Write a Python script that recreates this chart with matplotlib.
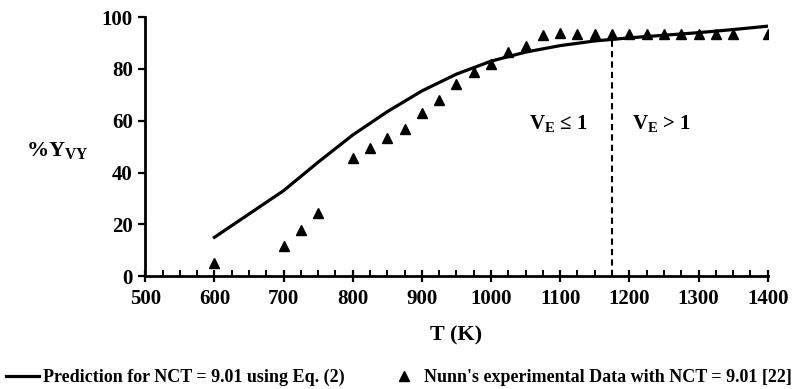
import matplotlib
matplotlib.use("Agg")
import matplotlib.pyplot as plt
import numpy as np
from matplotlib.ticker import MultipleLocator

plt.rcParams['font.family'] = ['Liberation Serif', 'DejaVu Serif']
plt.rcParams['font.weight'] = 'bold'
plt.rcParams['mathtext.fontset'] = 'custom'
plt.rcParams['mathtext.rm'] = 'Liberation Serif:bold'
plt.rcParams['mathtext.it'] = 'Liberation Serif:bold'
plt.rcParams['mathtext.bf'] = 'Liberation Serif:bold'

# prediction curve (Eq. 2)
t_pred = [600, 650, 700, 750, 800, 850, 900, 950, 1000, 1050, 1100, 1150, 1200, 1250, 1300, 1350, 1400]
y_pred = [15, 24, 33, 44, 54.5, 63.5, 71.5, 78, 83, 86.5, 89, 90.8, 92, 93, 94, 95.2, 96.5]

# Nunn's experimental data
t_exp = [600, 700, 725, 750, 800, 825, 850, 875, 900, 925, 950, 975, 1000, 1025, 1050,
         1075, 1100, 1125, 1150, 1175, 1200, 1225, 1250, 1275, 1300, 1325, 1350, 1400]
y_exp = [5, 11.5, 18, 24.5, 45.5, 49.5, 53.5, 57, 63, 68, 74, 79, 82, 86.5, 89,
         93, 93.8, 93.3, 93.3, 93.3, 93.3, 93.3, 93.3, 93.3, 93.3, 93.3, 93.3, 93.3]

t_switch = 1175
y_switch = 91.5

fig = plt.figure(figsize=(7.98, 3.89), dpi=100)
ax = fig.add_axes([0.182, 0.29, 0.78, 0.666])

ax.plot(t_pred, y_pred, color='black', lw=2.3,
        label='Prediction for NCT = 9.01 using Eq. (2)')
ax.plot(t_exp, y_exp, '^', color='black', ms=7.5, ls='none',
        label="Nunn's experimental Data with NCT = 9.01 [22]")
ax.plot([t_switch, t_switch], [0, y_switch], color='black', lw=1.5, ls=(0, (3, 2)))

ax.text(1097, 59, r'V$_{\mathrm{E}}$ ≤ 1', ha='center', va='center', fontsize=15)
ax.text(1247, 59, r'V$_{\mathrm{E}}$ > 1', ha='center', va='center', fontsize=15)

ax.set_xlim(500, 1400)
ax.set_ylim(0, 100)
ax.xaxis.set_major_locator(MultipleLocator(100))
ax.xaxis.set_minor_locator(MultipleLocator(25))
ax.yaxis.set_major_locator(MultipleLocator(20))

for s in ['top', 'right']:
    ax.spines[s].set_visible(False)
for s in ['left', 'bottom']:
    ax.spines[s].set_linewidth(2)

ax.tick_params(axis='x', which='major', direction='inout', length=8, width=1.6,
               labelsize=15, pad=5)
ax.tick_params(axis='x', which='minor', direction='in', length=4, width=1.4)
ax.tick_params(axis='y', which='major', direction='out', length=5, width=1.6,
               labelsize=15, pad=4)

ax.set_xlabel('T (K)', fontsize=16, fontweight='bold', labelpad=12)
ax.set_ylabel(r'%Y$_{\mathrm{VY}}$', fontsize=16, fontweight='bold', rotation=0,
              va='center')
ax.yaxis.set_label_coords(-0.141, 0.485)

fig.legend(loc='lower center', bbox_to_anchor=(0.5, -0.035), ncol=2, frameon=False,
           handlelength=1.8, handletextpad=0.2, columnspacing=2.4,
           prop={'weight': 'bold', 'size': 13})

fig.savefig('out.png', dpi=100)
